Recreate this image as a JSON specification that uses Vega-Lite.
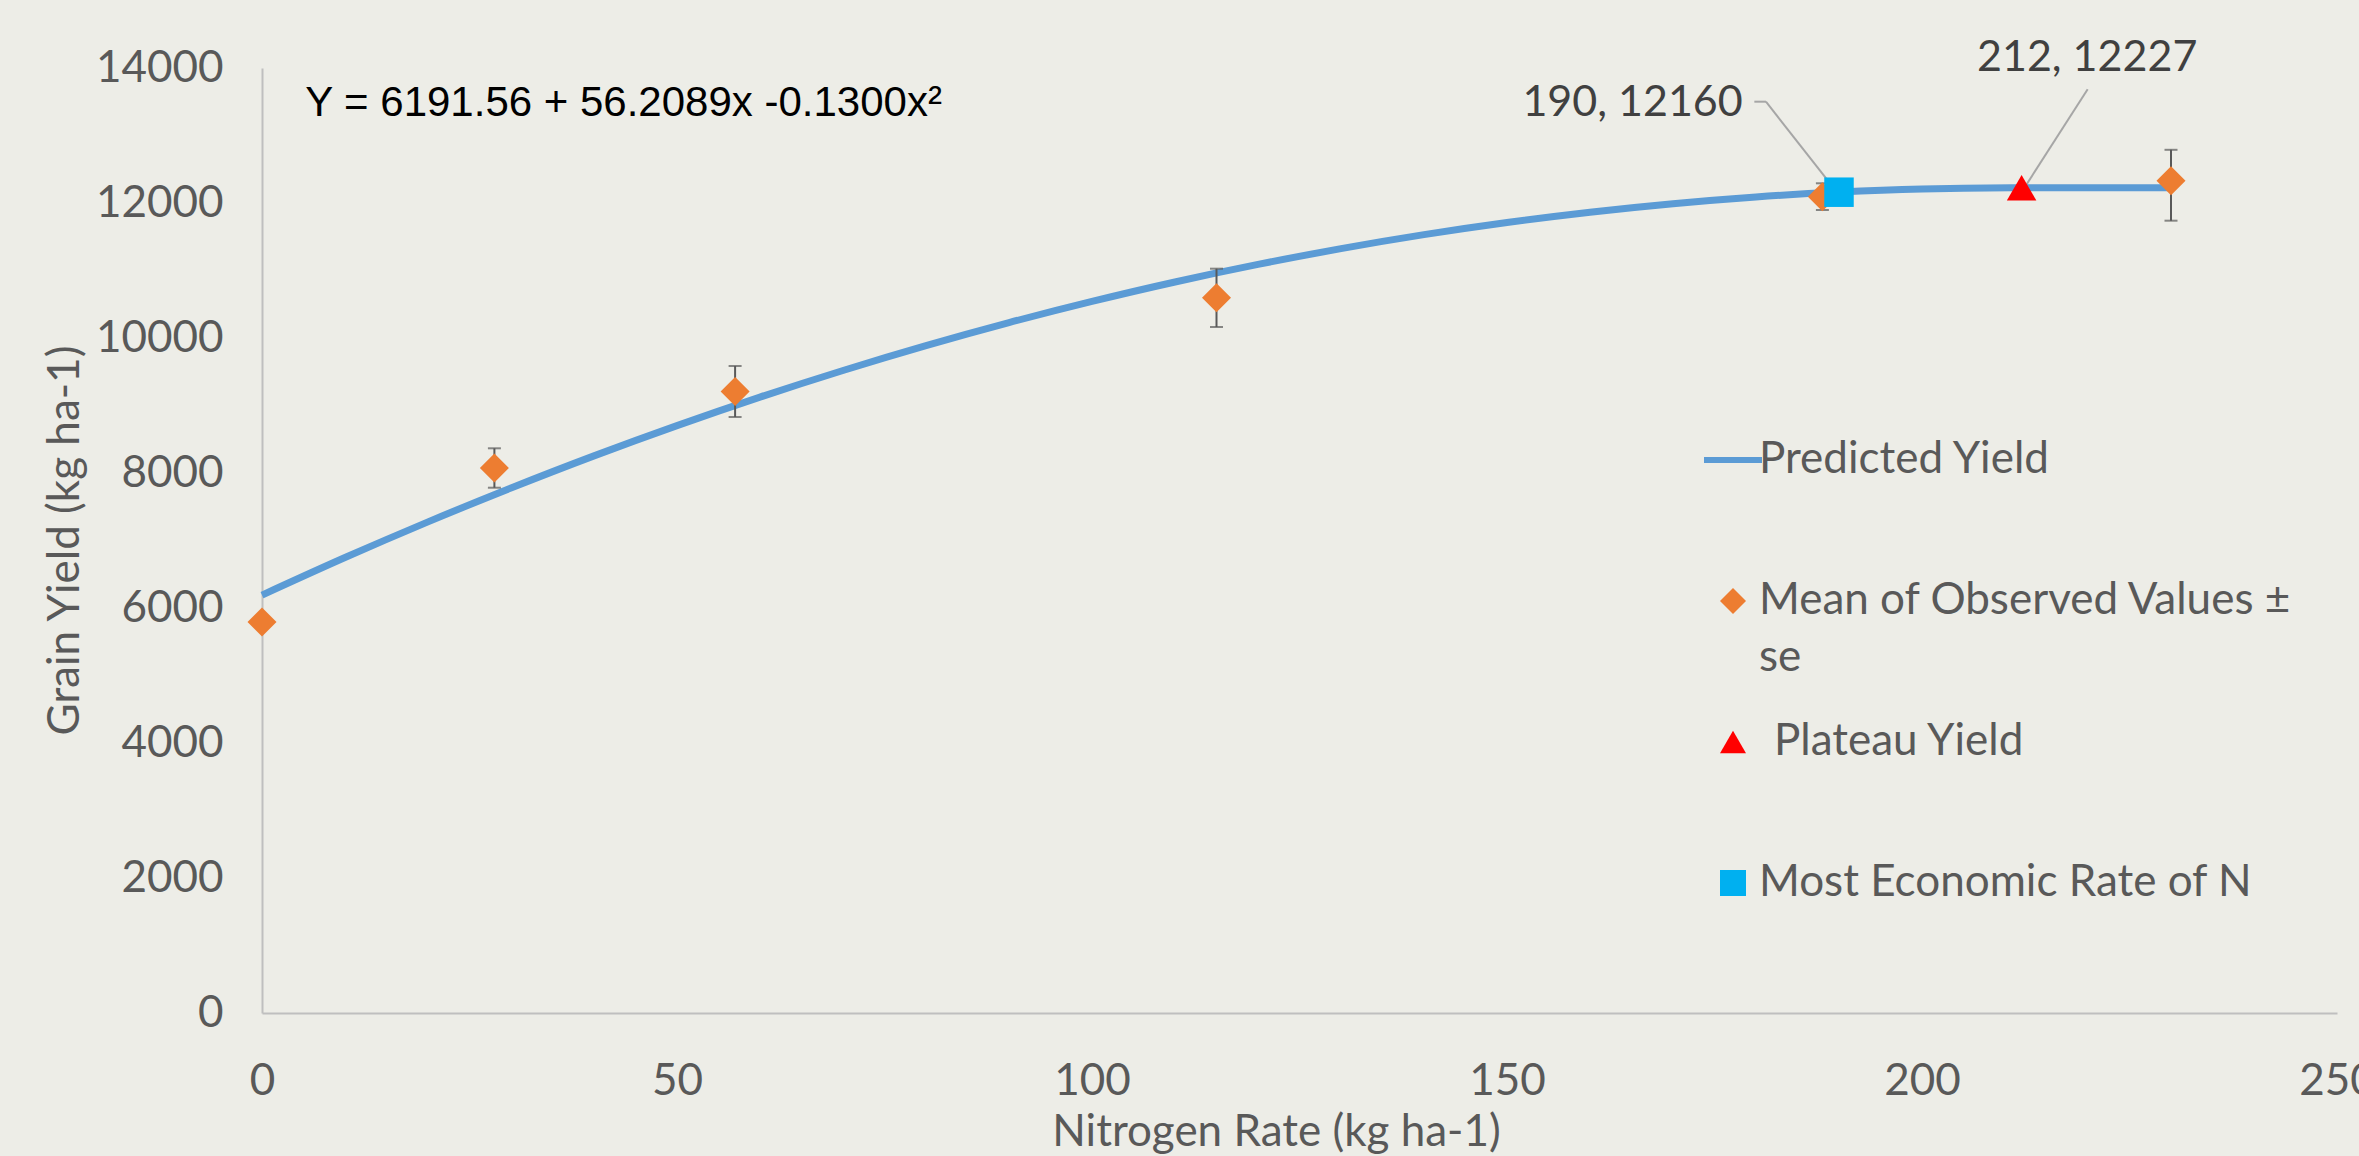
{
  "$schema": "https://vega.github.io/schema/vega-lite/v6.json",
  "autosize": {"type": "none"},
  "padding": {"left": 262, "top": 68, "right": 22, "bottom": 143},
  "width": 2075,
  "height": 945,
  "background": "#EDEDE7",
  "config": {
    "view": {"stroke": null},
    "axis": {"grid": false, "ticks": false, "domainColor": "#BFBFBF", "domainWidth": 2, "labelFont": "Lato", "labelFontSize": 44, "labelColor": "#595959", "titleFont": "Lato", "titleFontSize": 44, "titleColor": "#595959", "titleFontWeight": "normal"}
  },
  "datasets": {
    "curve": [
      {"N": 0, "yield": 6191, "series": "Predicted Yield"},
      {"N": 10, "yield": 6747, "series": "Predicted Yield"},
      {"N": 20, "yield": 7276, "series": "Predicted Yield"},
      {"N": 30, "yield": 7778, "series": "Predicted Yield"},
      {"N": 40, "yield": 8254, "series": "Predicted Yield"},
      {"N": 50, "yield": 8702, "series": "Predicted Yield"},
      {"N": 60, "yield": 9124, "series": "Predicted Yield"},
      {"N": 70, "yield": 9519, "series": "Predicted Yield"},
      {"N": 80, "yield": 9887, "series": "Predicted Yield"},
      {"N": 90, "yield": 10228, "series": "Predicted Yield"},
      {"N": 100, "yield": 10542, "series": "Predicted Yield"},
      {"N": 110, "yield": 10830, "series": "Predicted Yield"},
      {"N": 120, "yield": 11090, "series": "Predicted Yield"},
      {"N": 130, "yield": 11324, "series": "Predicted Yield"},
      {"N": 140, "yield": 11531, "series": "Predicted Yield"},
      {"N": 150, "yield": 11711, "series": "Predicted Yield"},
      {"N": 160, "yield": 11864, "series": "Predicted Yield"},
      {"N": 170, "yield": 11990, "series": "Predicted Yield"},
      {"N": 180, "yield": 12090, "series": "Predicted Yield"},
      {"N": 190, "yield": 12162, "series": "Predicted Yield"},
      {"N": 200, "yield": 12208, "series": "Predicted Yield"},
      {"N": 205, "yield": 12220, "series": "Predicted Yield"},
      {"N": 212, "yield": 12227, "series": "Predicted Yield"},
      {"N": 220, "yield": 12227, "series": "Predicted Yield"},
      {"N": 230, "yield": 12227, "series": "Predicted Yield"}
    ],
    "obs": [
      {"N": 0, "yield": 5793, "lo": 5793, "hi": 5793, "series": "Mean of Observed Values ± se"},
      {"N": 28, "yield": 8074, "lo": 7782, "hi": 8366, "series": "Mean of Observed Values ± se"},
      {"N": 57, "yield": 9207, "lo": 8830, "hi": 9585, "series": "Mean of Observed Values ± se"},
      {"N": 115, "yield": 10595, "lo": 10163, "hi": 11027, "series": "Mean of Observed Values ± se"},
      {"N": 188, "yield": 12094, "lo": 11896, "hi": 12292, "series": "Mean of Observed Values ± se"},
      {"N": 230, "yield": 12330, "lo": 11738, "hi": 12788, "series": "Mean of Observed Values ± se"}
    ],
    "special": [
      {"N": 212, "yield": 12227, "series": "Plateau Yield"},
      {"N": 190, "yield": 12160, "series": "Most Economic Rate of N"}
    ],
    "notes": [
      {"N": 219.9, "yield": 14148, "label": "212, 12227", "side": "center"},
      {"N": 178.4, "yield": 13481, "label": "190, 12160", "side": "right"}
    ],
    "equation": [
      {"N": 5.2, "yield": 13481, "label": "Y = 6191.56 + 56.2089x -0.1300x²"}
    ],
    "leaders": [
      {"N": 219.96, "yield": 13684, "N2": 212.3, "yield2": 12218},
      {"N": 179.8, "yield": 13501, "N2": 181.2, "yield2": 13501},
      {"N": 181.2, "yield": 13501, "N2": 189.8, "yield2": 12153}
    ]
  },
  "encoding": {
    "x": {"field": "N", "type": "quantitative", "scale": {"domain": [0, 250], "nice": false, "zero": false},
      "axis": {"values": [0, 50, 100, 150, 200, 250], "labelFlush": false, "labelPadding": 46, "title": "Nitrogen Rate (kg ha-1)", "titleX": 1014, "titleY": 119, "titleBaseline": "middle"}},
    "y": {"field": "yield", "type": "quantitative", "scale": {"domain": [0, 14000], "nice": false},
      "axis": {"values": [0, 2000, 4000, 6000, 8000, 10000, 12000, 14000], "format": "d", "labelPadding": 39, "title": "Grain Yield (kg ha-1)", "titleX": -197, "titleY": 472, "titleBaseline": "middle", "titleAnchor": "middle"}}
  },
  "layer": [
    {
      "data": {"name": "leaders"},
      "mark": {"type": "rule", "color": "#A6A6A6", "strokeWidth": 2, "clip": false},
      "encoding": {"x2": {"field": "N2"}, "y2": {"field": "yield2"}}
    },
    {
      "data": {"name": "curve"},
      "mark": {"type": "line", "strokeWidth": 7, "interpolate": "monotone", "clip": false},
      "encoding": {
        "color": {"field": "series", "type": "nominal",
          "scale": {"domain": ["Predicted Yield", "Mean of Observed Values ± se", "Plateau Yield", "Most Economic Rate of N"], "range": ["#5B9BD5", "#ED7D31", "#FF0000", "#00B0F0"]},
          "legend": {
            "title": null, "orient": "none", "legendX": 1449, "legendY": 370, "padding": 0,
            "gridAlign": "all",
            "symbolSize": 3364, "labelFont": "Lato", "labelFontSize": 44, "labelColor": "#595959", "labelOffset": 4, "rowPadding": 40, "labelLimit": 800,
            "labelExpr": "datum.value === 'Mean of Observed Values ± se' ? ['Mean of Observed Values ±', 'se'] : datum.label",
            "encode": {
              "symbols": {"update": {
                "stroke": {"scale": "color", "field": "value"},
                "strokeWidth": {"signal": "datum.value === 'Predicted Yield' ? 6 : 0"},
                "size": {"signal": "datum.value === 'Predicted Yield' ? 3364 : 676"},
                "fill": {"signal": "datum.value === 'Predicted Yield' ? 'transparent' : scale('color', datum.value)"}
              }},
              "labels": {"update": {
                "lineHeight": {"value": 57},
                "dx": {"signal": "datum.value === 'Plateau Yield' ? 15 : 0"}
              }}
            }
          }},
        "shape": {"field": "series", "type": "nominal",
          "scale": {"domain": ["Predicted Yield", "Mean of Observed Values ± se", "Plateau Yield", "Most Economic Rate of N"], "range": ["stroke", "diamond", "triangle-up", "square"]},
          "legend": null}
      }
    },
    {
      "data": {"name": "obs"},
      "mark": {"type": "rule", "color": "#595959", "strokeWidth": 2, "clip": false},
      "encoding": {"y": {"field": "lo"}, "y2": {"field": "hi"}}
    },
    {
      "data": {"name": "obs"},
      "mark": {"type": "tick", "color": "#595959", "thickness": 2, "size": 13, "orient": "horizontal", "clip": false},
      "encoding": {"y": {"field": "lo"}}
    },
    {
      "data": {"name": "obs"},
      "mark": {"type": "tick", "color": "#595959", "thickness": 2, "size": 13, "orient": "horizontal", "clip": false},
      "encoding": {"y": {"field": "hi"}}
    },
    {
      "data": {"name": "obs"},
      "mark": {"type": "point", "filled": true, "opacity": 1, "size": 841, "clip": false},
      "encoding": {
        "color": {"field": "series", "type": "nominal"},
        "shape": {"field": "series", "type": "nominal"}
      }
    },
    {
      "data": {"name": "special"},
      "mark": {"type": "point", "filled": true, "opacity": 1, "size": 870, "clip": false},
      "encoding": {
        "color": {"field": "series", "type": "nominal"},
        "shape": {"field": "series", "type": "nominal"}
      }
    },
    {
      "data": {"name": "notes"},
      "transform": [{"filter": "datum.side === 'center'"}],
      "mark": {"type": "text", "font": "Lato", "fontSize": 43, "color": "#404040", "align": "center", "baseline": "middle", "clip": false},
      "encoding": {"text": {"field": "label"}}
    },
    {
      "data": {"name": "notes"},
      "transform": [{"filter": "datum.side === 'right'"}],
      "mark": {"type": "text", "font": "Lato", "fontSize": 43, "color": "#404040", "align": "right", "baseline": "middle", "clip": false},
      "encoding": {"text": {"field": "label"}}
    },
    {
      "data": {"name": "equation"},
      "mark": {"type": "text", "font": "Liberation Sans", "fontSize": 42, "color": "#000000", "align": "left", "baseline": "middle", "clip": false},
      "encoding": {"text": {"field": "label"}}
    }
  ]
}
